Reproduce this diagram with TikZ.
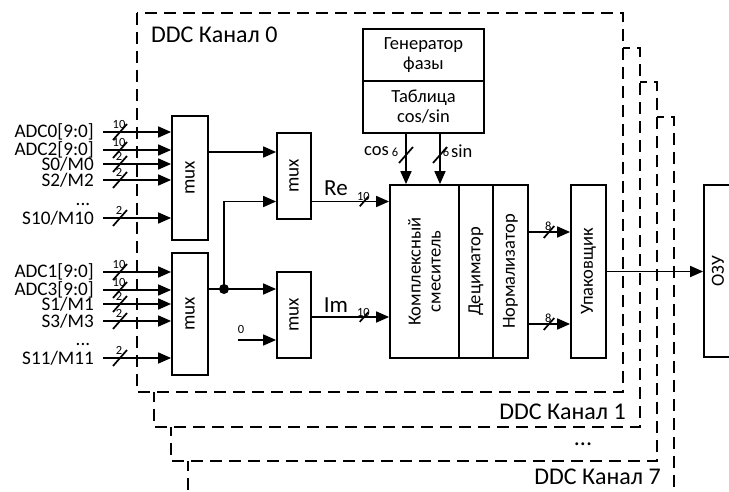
\documentclass[tikz,border=0pt]{standalone}
\usepackage{fontspec}
\setmainfont{Carlito}
\usetikzlibrary{arrows.meta,calc}

\tikzset{
  blk/.style={draw,line width=1.8pt,fill=white,inner sep=0pt},
  sig/.style={line width=1.7pt},
  arr/.style={sig,-{Triangle[length=13pt,width=11pt]}},
  chan/.style={draw,line width=2pt,dash pattern=on 12pt off 7pt,fill=white},
  txt/.style={font=\fontsize{18.5}{20}\selectfont,inner sep=1pt},
  inl/.style={font=\fontsize{19.2}{20}\selectfont,inner sep=1pt},
  big/.style={font=\fontsize{24}{26}\selectfont,inner sep=1pt},
  small/.style={font=\fontsize{12.5}{13}\selectfont,inner sep=0pt},
  pics/bus/.style={code={
    \draw[sig] (-7,8)--(7,-8);
    \node[small] at (-1,-8) {#1};}},
}

\begin{document}
\begin{tikzpicture}[x=1pt,y=-1pt,>=Triangle]
  \useasboundingbox (0,0) rectangle (729,492);
  \fill[white] (0,0) rectangle (729,492);
  % channels, back to front
  \foreach \i in {3,2,1,0}
    \draw[chan] (137+17*\i,13+34.7*\i) rectangle (623+17*\i,392+34.7*\i);
  \node[big,anchor=west] (ch0) at (150,35) {DDC Канал 0};
  \node[big,anchor=east] (ch1) at (627,412) {DDC Канал 1};
  \node[big] (chdots) at (583,444) {...};
  \node[big,anchor=east] (ch7) at (662,477) {DDC Канал 7};

  % blocks
  \node[blk,minimum width=36,minimum height=124,label={[inl,rotate=90]center:mux}] (mxA) at (190,178) {};
  \node[blk,minimum width=36,minimum height=122,label={[inl,rotate=90]center:mux}] (mxB) at (190,314) {};
  \node[blk,minimum width=34,minimum height=86,label={[inl,rotate=90]center:mux}] (mxRe) at (294,176) {};
  \node[blk,minimum width=34,minimum height=86,label={[inl,rotate=90]center:mux}] (mxIm) at (294,315) {};
  \node[blk,minimum width=69,minimum height=173] (mix) at (424.5,271.5) {};
  \node[blk,minimum width=34,minimum height=173] (dec) at (476,271.5) {};
  \node[blk,minimum width=35,minimum height=173] (norm) at (510.5,271.5) {};
  \node[blk,minimum width=35,minimum height=173] (pack) at (588.5,271.5) {};
  \node[blk,minimum width=40,minimum height=172] (ozu) at (724,271) {};
  \node[txt,rotate=90,align=center] (mixT) at (mix) {Комплексный\\смеситель};
  \node[txt,rotate=90] (decT) at (dec) {Дециматор};
  \node[txt,rotate=90] (normT) at (norm) {Нормализатор};
  \node[txt,rotate=90] (packT) at (pack) {Упаковщик};
  \node[txt,rotate=90] (ozuT) at (718,271) {ОЗУ};
  \node[blk,txt,align=center,minimum width=121,minimum height=52] (gen) at (423.5,55) {Генератор\\фазы};
  \node[blk,txt,align=center,minimum width=121,minimum height=52] (tab) at (423.5,107) {Таблица\\cos/sin};

  % inputs
  \foreach \lbl/\yy/\w [count=\k] in {{ADC0[9:0]}/132/10,{ADC2[9:0]}/150/10,{S0/M0}/164/2,{S2/M2}/180/2,{S10/M10}/218/2}{
    \node[inl,anchor=east] (inA\k) at (95,\yy) {\lbl};
    \draw[arr] ([xshift=8]inA\k.east) -- (inA\k.east -| mxA.west);
    \path (120,\yy) pic{bus=\w};
  }
  \foreach \lbl/\yy/\w [count=\k] in {{ADC1[9:0]}/272/10,{ADC3[9:0]}/290/10,{S1/M1}/304/2,{S3/M3}/321/2,{S11/M11}/358/2}{
    \node[inl,anchor=east] (inB\k) at (95,\yy) {\lbl};
    \draw[arr] ([xshift=8]inB\k.east) -- (inB\k.east -| mxB.west);
    \path (120,\yy) pic{bus=\w};
  }
  \node[inl] (dotsA) at (83,204) {...};
  \node[inl] (dotsB) at (83,344) {...};

  % second stage
  \coordinate (j) at (224,289);
  \draw[arr] ([yshift=26]mxA.east) -- ([yshift=26]mxA.east -| mxRe.west);
  \draw[sig] ([yshift=25]mxB.east) -- (j);
  \draw[arr] (j) -- (j -| mxIm.west);
  \draw[arr] (j) |- ([yshift=-25.5]mxRe.west);
  \fill (j) circle (5);
  \node[small] (zero) at (241,329) {0};
  \draw[arr] (zero.south west |- 0,340) -- ([yshift=-25]mxIm.west);

  % to mixer
  \draw[arr] ([yshift=-25.5]mxRe.east) -- ([yshift=-25.5]mxRe.east -| mix.west);
  \draw[arr] ([yshift=-2]mxIm.east) -- ([yshift=-2]mxIm.east -| mix.west);
  \node[font=\fontsize{23}{25}\selectfont] (re) at (336,188) {Re};
  \node[font=\fontsize{23}{25}\selectfont] (im) at (336,305) {Im};
  \path (364,201.5) pic[scale=0.6]{bus=10};
  \path (364,317) pic[scale=0.6]{bus=10};

  % phase
  \draw[arr] ([xshift=-17.5]tab.south) -- ([xshift=-17.5]tab.south |- mix.north);
  \draw[arr] ([xshift=16.5]tab.south) -- ([xshift=16.5]tab.south |- mix.north);
  \path (406,155) pic{bus=};
  \path (440,155) pic{bus=};
  \node[txt,anchor=east] (cosA) at (390,151) {cos};
  \node[small] (cosN) at (395,152) {6};
  \node[small] (sinN) at (446,152) {6};
  \node[txt,anchor=west] (sinA) at (450,151) {sin};

  % outputs
  \draw[arr] ([yshift=39.5]norm.east) -- ([yshift=39.5]norm.east -| pack.west);
  \draw[arr] ([yshift=-52.5]norm.east) -- ([yshift=-52.5]norm.east -| pack.west);
  \path (549,232) pic[scale=0.75]{bus=8};
  \path (549,324) pic[scale=0.75]{bus=8};
  \draw[arr] (pack.east) -- (pack.east -| ozu.west);
\end{tikzpicture}
\end{document}
